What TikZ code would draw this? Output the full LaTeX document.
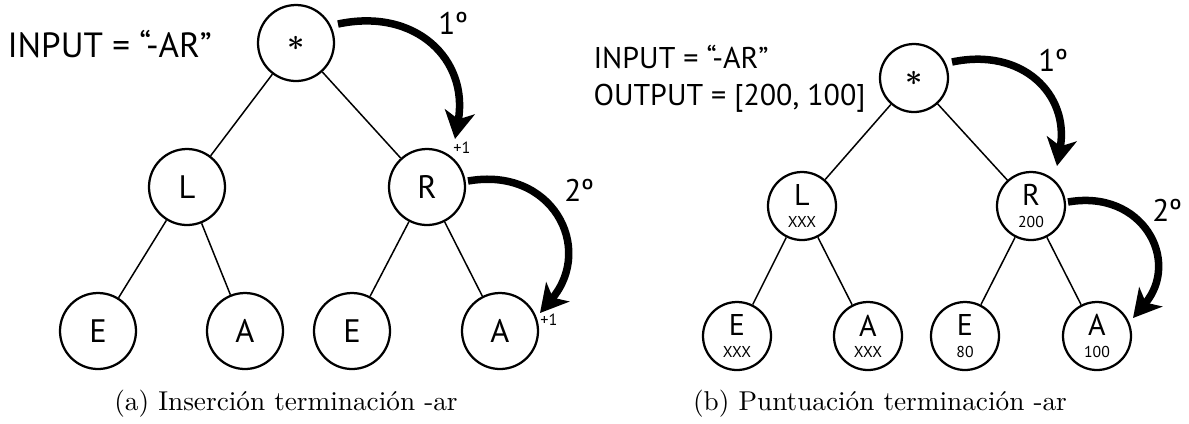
\documentclass[tikz,border=0pt]{standalone}
\usepackage{fontspec}
\newfontfamily\lab{PT Sans}
\usetikzlibrary{arrows.meta,shapes.geometric}
\begin{document}
\begin{tikzpicture}[x=0.4pt,y=-0.4pt,
  bignode/.style={circle,draw,line width=0.9pt,minimum size=30.4pt,inner sep=0pt,font=\lab\fontsize{13}{14}\selectfont},
  smallnode/.style={circle,draw,line width=0.9pt,minimum size=27.2pt,inner sep=0pt,font=\lab\fontsize{12}{12}\selectfont,align=center},
  treeedge/.style={line width=0.6pt},
  bigarrow/.style={line width=3pt,-{Stealth[length=11pt,width=12pt,inset=3pt]}},
  bigtxt/.style={font=\lab\fontsize{14}{16}\selectfont,inner sep=0pt},
  txt/.style={font=\lab\fontsize{12}{15}\selectfont,inner sep=0pt},
  ord/.style={font=\lab\fontsize{12.5}{13}\selectfont,inner sep=0pt},
  tinytxt/.style={font=\lab\fontsize{6.5}{7}\selectfont,inner sep=0pt},
  captxt/.style={font=\fontsize{10.9}{13}\selectfont,inner sep=0pt,anchor=base}
]
\newcommand{\nsub}[2]{#1\\[-3.5pt]{\fontsize{6.3}{6.3}\selectfont #2}}
\newcommand{\bigast}{{\fontsize{13}{13}\selectfont\boldmath$\ast$}}
\useasboundingbox (0,0) rectangle (1189,423);
% ---------- left tree ----------
\node[bigtxt,anchor=base west] (inl) at (7,57) {INPUT = “-AR”};
\node[bignode] (r0) at (296,43) {\bigast};
\node[bignode] (l1) at (187,187) {L};
\node[bignode] (r1) at (427,187) {R};
\node[bignode] (e1) at (98,331) {E};
\node[bignode] (a1) at (245,331) {A};
\node[bignode] (e2) at (352,331) {E};
\node[bignode] (a2) at (500,331) {A};
\draw[treeedge] (r0) -- (l1);
\draw[treeedge] (r0) -- (r1);
\draw[treeedge] (l1) -- (e1);
\draw[treeedge] (l1) -- (a1);
\draw[treeedge] (r1) -- (e2);
\draw[treeedge] (r1) -- (a2);
\coordinate (s1) at (338,24);
\coordinate (t1) at (455,139);
\draw[bigarrow] (s1) to[out=12,in=80,looseness=1.25] (t1);
\coordinate (s2) at (468,181);
\coordinate (t2) at (540,313);
\draw[bigarrow] (s2) to[out=10,in=50,looseness=1.45] (t2);
\node[ord] (o1) at (453,23) {1º};
\node[ord] (o2) at (579,190) {2º};
\node[tinytxt] (p1) at (462,148) {+1};
\node[tinytxt] (p2) at (549,320) {+1};
\node[captxt] (ca) at (286,410) {(a) Inserción terminación -ar};
% ---------- right tree ----------
\node[txt,anchor=base west] (inr) at (593,68) {INPUT = “-AR”};
\node[txt,anchor=base west] (outr) at (593,105) {OUTPUT = [200, 100]};
\node[smallnode] (R0) at (914,78) {\bigast};
\node[smallnode] (L1) at (802,206) {\nsub{L}{XXX}};
\node[smallnode] (R1) at (1031,206) {\nsub{R}{200}};
\node[smallnode] (E1) at (737,336) {\nsub{E}{XXX}};
\node[smallnode] (A1) at (868,336) {\nsub{A}{XXX}};
\node[smallnode] (E2) at (965,336) {\nsub{E}{80}};
\node[smallnode] (A2) at (1097,336) {\nsub{A}{100}};
\draw[treeedge] (R0) -- (L1);
\draw[treeedge] (R0) -- (R1);
\draw[treeedge] (L1) -- (E1);
\draw[treeedge] (L1) -- (A1);
\draw[treeedge] (R1) -- (E2);
\draw[treeedge] (R1) -- (A2);
\coordinate (S1) at (952,62);
\coordinate (T1) at (1057,166);
\draw[bigarrow] (S1) to[out=12,in=80,looseness=1.25] (T1);
\coordinate (S2) at (1068,202);
\coordinate (T2) at (1133,318);
\draw[bigarrow] (S2) to[out=10,in=50,looseness=1.45] (T2);
\node[ord] (O1) at (1053,60) {1º};
\node[ord] (O2) at (1167,210) {2º};
\node[captxt] (cb) at (880,410) {(b) Puntuación terminación -ar};
\end{tikzpicture}
\end{document}
